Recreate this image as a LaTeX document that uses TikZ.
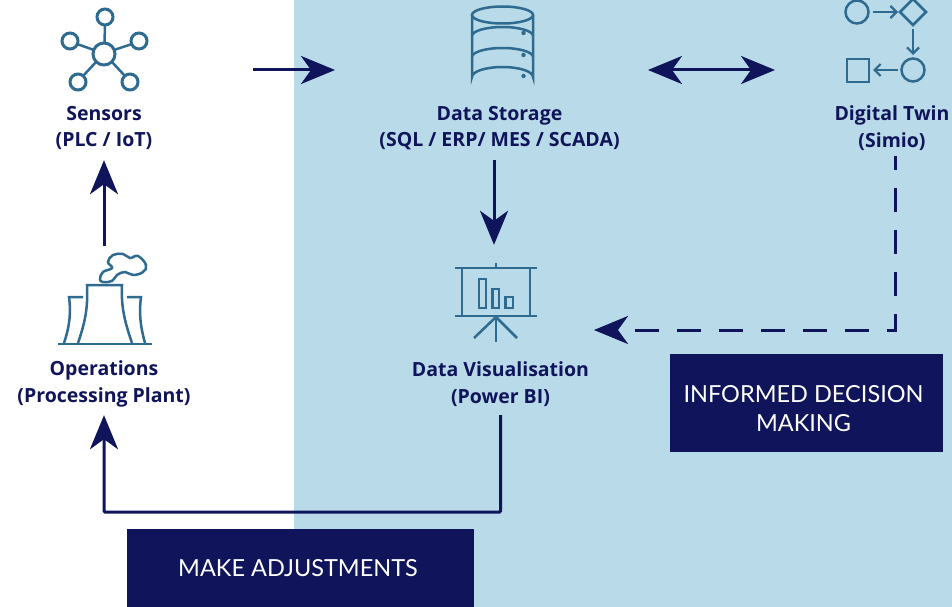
\documentclass[tikz,border=0pt]{standalone}
\usepackage{fontspec}
\setmainfont{Lato}
\newfontfamily\labfont{Open Sans}
\usetikzlibrary{arrows.meta}
\definecolor{skyb}{HTML}{B9DAE8}
\definecolor{navyd}{HTML}{10145A}
\definecolor{iconb}{HTML}{2F6B90}
\tikzset{
  lab/.style={inner sep=0pt,align=center,text=navyd,font=\labfont\bfseries\fontsize{19.5}{26.5}\selectfont,minimum width=100pt},
  flow/.style={draw=navyd,line width=3pt,-{Stealth[length=34pt,width=28pt,inset=10pt]}},
  flowboth/.style={draw=navyd,line width=3pt,{Stealth[length=34pt,width=28pt,inset=10pt]}-{Stealth[length=34pt,width=28pt,inset=10pt]}},
  banner/.style={fill=navyd,inner sep=0pt},
  bannertext/.style={text=white,inner sep=0pt,align=center,font=\fontsize{23.5}{29}\selectfont},
  ic/.style={draw=iconb,line width=2.5pt,fill=none},
  icthin/.style={draw=iconb,line width=2.2pt,-{Straight Barb[length=6pt,width=12pt]}},
  anchorbox/.style={inner sep=0pt,minimum width=80pt}
}
\begin{document}
\begin{tikzpicture}[x=1pt,y=-1pt]
\useasboundingbox (0,0) rectangle (952,607);
\fill[white] (0,0) rectangle (952,607);
\fill[skyb] (294,0) rectangle (952,607);

% banners
\node[banner,minimum width=273pt,minimum height=98pt] (decide) at (806.5,403) {};
\node[bannertext] (decidetext) at (803.5,409) {INFORMED DECISION\\MAKING};
\node[banner,minimum width=347pt,minimum height=78pt] (adjust) at (300.5,568) {};
\node[bannertext] (adjusttext) at (298,568) {MAKE ADJUSTMENTS};

% labels
\node[lab,minimum height=64pt] (sensors) at (104,128) {Sensors\\(PLC / IoT)};
\node[lab,minimum height=64pt] (storage) at (499.5,128) {Data Storage\\(SQL / ERP/ MES / SCADA)};
\node[lab,minimum height=56pt] (twin) at (892,128) {Digital Twin\\(Simio)};
\node[lab,minimum height=62pt] (ops) at (104,384) {Operations\\(Processing Plant)};
\node[lab,minimum height=62pt] (vis) at (500.5,384) {Data Visualisation\\(Power BI)};

% invisible icon extents used as connector ends
\node[anchorbox,minimum height=100pt] (opsicon) at (104,296) {};
\node[anchorbox,minimum height=100pt] (visicon) at (494,295) {};

% Sensors icon
\draw[ic,line width=3pt] (104,54) circle (11);
\foreach \x/\y in {105/17,70/41,139/41,78/82,130/82}{
  \draw[ic,line width=3pt] (\x,\y) circle (8);
}
\draw[ic] (104.5,43)--(105,25);
\draw[ic] (94,50)--(77,44);
\draw[ic] (114,50)--(132,44);
\draw[ic] (96,62)--(83,76);
\draw[ic] (112,62)--(125,76);

% Storage icon
\draw[ic] (502.5,15) ellipse (30.5 and 8.5);
\draw[ic] (472,15)--(472,77) arc[start angle=180,end angle=0,x radius=30.5,y radius=-10]--(533,15);
\draw[ic] (472,36) arc[start angle=180,end angle=0,x radius=30.5,y radius=-9];
\draw[ic] (472,57) arc[start angle=180,end angle=0,x radius=30.5,y radius=-9];
\foreach \y in {33,55,76}{\fill[iconb] (523.5,\y) circle (2.2);}

% Twin icon
\draw[ic] (857,12) circle (11.5);
\draw[ic] (913,-1)--(926,12)--(913,25)--(900,12)--cycle;
\draw[ic] (913,70) circle (11.5);
\draw[ic] (847,59) rectangle (869,82);
\draw[icthin] (873,12)--(898,12);
\draw[icthin] (913,29)--(913,55);
\draw[icthin] (898,70)--(873,70);

% Plant icon
\draw[ic] (58,344)--(152,344);
\draw[ic] (78,343) .. controls (86,320) and (88,305) .. (87,285) -- (122,285) .. controls (121,305) and (124,320) .. (132,343);
\draw[ic] (64,343) .. controls (70,325) and (71,312) .. (69,297) -- (83,297);
\draw[ic] (127,297) -- (141,297) .. controls (139,312) and (140,325) .. (145,343);
\draw[ic] plot[smooth cycle,tension=0.7] coordinates {(100,279)(103,272)(112,268)(108,262)(113,255)(123,254)(130,258)(138,256)(146,265)(143,272)(133,275)(125,272)(117,275)(112,281)(103,282)};

% Visualisation icon
\draw[ic] (455,268)--(537,268);
\draw[ic] (496,263)--(496,268);
\draw[ic] (462,268)--(462,316);
\draw[ic] (530,268)--(530,316);
\draw[ic] (455,316)--(537,316);
\draw[ic] (479,279) rectangle (486,308);
\draw[ic] (492.5,289) rectangle (499,308);
\draw[ic] (505.5,297) rectangle (513,308);
\draw[ic] (496,317)--(474,338);
\draw[ic] (496,317)--(517,338);
\draw[ic] (496,317)--(496,342);

% connector ends
\coordinate (sensorsout) at (253,70);
\coordinate (storagein) at (335,70);
\coordinate (storageside) at (648,70);
\coordinate (twinside) at (775,70);
\coordinate (visdash) at (594,330);
\coordinate (bottomrun) at (300,512);

% connectors
\draw[flow] (sensorsout)--(storagein);
\draw[flowboth] (storageside)--(twinside);
\draw[flow] ([xshift=-5.5pt]storage.south)--(visicon.north);
\draw[flow] (opsicon.north)--(sensors.south);
\draw[draw=navyd,line width=3pt,-{Stealth[length=34pt,width=28pt,inset=10pt]},dash pattern=on 24pt off 18pt,dash phase=10pt] ([xshift=3pt]twin.south) |- (visdash);
\draw[flow,rounded corners=1pt] (vis.south) |- (bottomrun) -| (ops.south);
\end{tikzpicture}
\end{document}
